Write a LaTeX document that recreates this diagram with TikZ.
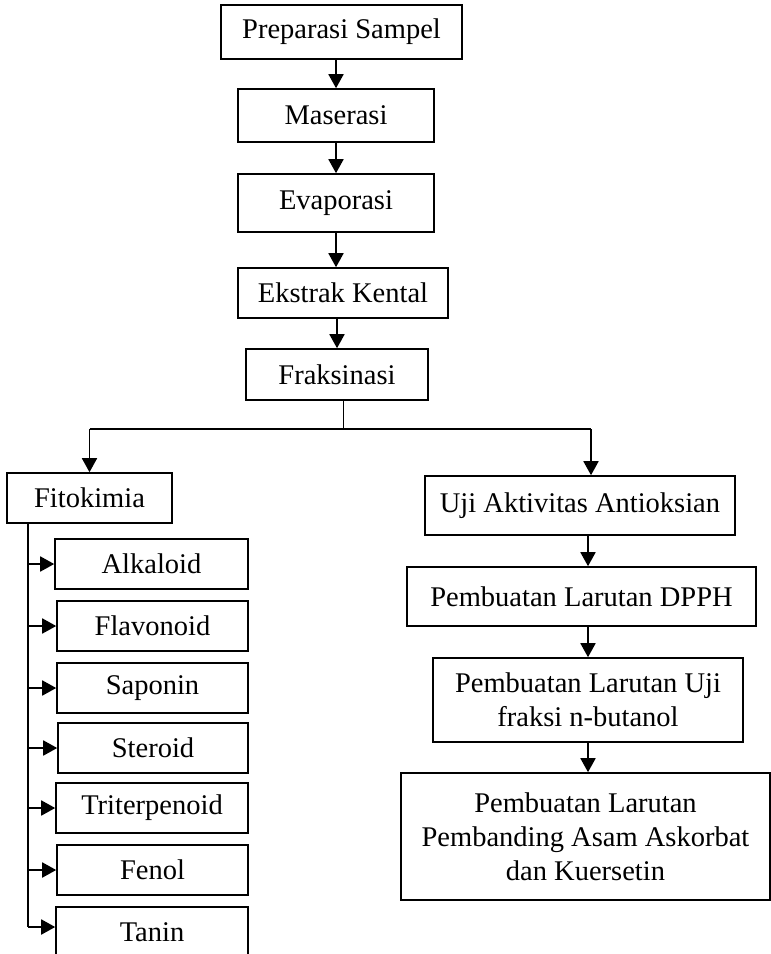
\documentclass[tikz,border=0pt]{standalone}
\usepackage{fontspec}
\setmainfont{Liberation Serif}
\usetikzlibrary{arrows.meta}
\begin{document}
\begin{tikzpicture}[x=1pt,y=-1pt,
  box/.style={draw, line width=1.6pt, inner sep=0pt, align=center,
    font=\fontsize{28.5}{34}\selectfont},
  arr/.style={line width=1.8pt, -{Triangle[width=15pt,length=14pt]}},
  ln/.style={line width=1.8pt}]
\clip (0,0) rectangle (771,954);
\fill[white] (0,0) rectangle (771,954);
% main chain
\node[box, minimum width=241, minimum height=54] (prep) at (341.5,32) {Preparasi Sampel};
\node[box, minimum width=196, minimum height=53] (mas) at (336,115.5) {Maserasi};
\node[box, minimum width=196, minimum height=58] (evap) at (336,203) {Evaporasi};
\node[box, minimum width=210, minimum height=50] (ekst) at (343,293) {Ekstrak Kental};
\node[box, minimum width=182, minimum height=51] (frak) at (337,374.5) {Fraksinasi};
% left branch
\node[box, minimum width=165, minimum height=50] (fito) at (89.5,498) {Fitokimia};
\node[box, minimum width=193, minimum height=50] (alk) at (151.5,564) {Alkaloid};
\node[box, minimum width=191, minimum height=50] (flav) at (152.5,626) {Flavonoid};
\node[box, minimum width=191, minimum height=50] (sap) at (152.5,688) {Saponin};
\node[box, minimum width=190, minimum height=50] (ster) at (153,748) {Steroid};
\node[box, minimum width=192, minimum height=50] (trit) at (152,808) {Triterpenoid};
\node[box, minimum width=191, minimum height=50] (fen) at (152.5,870) {Fenol};
\node[box, minimum width=192, minimum height=50] (tan) at (152,932) {Tanin};
% right branch
\node[box, minimum width=310, minimum height=59] (uji) at (580,505.5) {Uji Aktivitas Antioksian};
\node[box, minimum width=349, minimum height=59] (dpph) at (581.5,596.5) {Pembuatan Larutan DPPH};
\node[box, minimum width=310, minimum height=84] (ujib) at (588,700) {Pembuatan Larutan Uji\\fraksi n-butanol};
\node[box, minimum width=369, minimum height=127] (last) at (585.5,836.5) {Pembuatan Larutan\\Pembanding Asam Askorbat\\dan Kuersetin};
% chain arrows
\draw[arr] (mas.north |- prep.south) -- (mas.north);
\draw[arr] (mas.south) -- (mas.south |- evap.north);
\draw[arr] (evap.south) -- (evap.south |- ekst.north);
\draw[arr] (frak.north |- ekst.south) -- (frak.north);
% branching
\coordinate (stem) at (343,400);
\coordinate (br) at (343,429);
\coordinate (rt) at (591,429);
\draw[line width=1pt] (stem) -- (br);
\draw[ln] (fito.north |- br) -- (rt);
\draw[arr] (fito.north |- br) -- (fito.north);
\draw[arr] (rt) -- (rt |- uji.north);
% right chain
\draw[arr] (ujib.north |- uji.south) -- (ujib.north |- dpph.north);
\draw[arr] (ujib.north |- dpph.south) -- (ujib.north);
\draw[arr] (ujib.south) -- (ujib.south |- last.north);
% left spine
\coordinate (sp) at (28,523);
\coordinate (spend) at (28,927);
\draw[ln] (sp) -- (spend);
\foreach \n in {alk,flav,sap,ster,trit,fen}{
  \draw[arr] (sp |- \n.west) -- (\n.west);
}
\draw[arr] (spend) -- (tan.west |- spend);
\end{tikzpicture}
\end{document}
